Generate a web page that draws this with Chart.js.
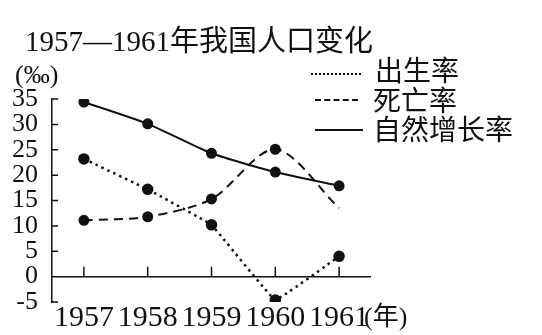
<!DOCTYPE html>
<html>
<head>
<meta charset="utf-8">
<script src="https://cdn.jsdelivr.net/npm/chart.js@4"></script>
<style>
  body { margin: 0; background: #fff; }
  #wrap { position: relative; width: 542px; height: 335px; }
  .txt { position: absolute; font-family: "Liberation Serif", "Noto Sans CJK SC", serif; color: #111; white-space: nowrap; line-height: 1; }
  .key { position: absolute; height: 0; border-top-color: #111; }
</style>
</head>
<body>
<div id="wrap">
  <canvas id="lineChart" width="542" height="335"></canvas>
  <div class="txt" style="left:25px; top:27px; font-size:29px;">1957—1961年我国人口变化</div>
  <div class="txt" style="left:15px; top:62px; font-size:26px;">(‰)</div>
  <div class="key" style="left:311px; top:73px; width:50px; border-top:2.5px dotted #111;"></div>
  <div class="txt" style="left:375px; top:58px; font-size:28px;">出生率</div>
  <div class="key" style="left:315px; top:99px; width:43px; border-top:2px dashed #111;"></div>
  <div class="txt" style="left:373px; top:88px; font-size:28px;">死亡率</div>
  <div class="key" style="left:315px; top:129px; width:48px; border-top:2px solid #111;"></div>
  <div class="txt" style="left:373px; top:117px; font-size:28px;">自然增长率</div>
  <div class="txt" style="left:364px; top:304px; font-size:26px;">(年)</div>
</div>
<script>
const years = ['1957', '1958', '1959', '1960', '1961'];
const birthRate = [23.2, 17.2, 10.2, -4.6, 4.0];
const deathRate = [11.1, 11.8, 15.3, 25.1, 13.5];
const growthRate = [34.4, 30.1, 24.3, 20.6, 17.9];
const yTicks = [35, 30, 25, 20, 15, 10, 5, 0, -5];

// small tick marks: inward on the y axis, upward on the zero line
const axisMarks = {
    id: 'axisMarks',
    afterDraw(chart) {
        const ctx = chart.ctx;
        const x = chart.scales.x;
        const y = chart.scales.y;
        ctx.save();
        ctx.strokeStyle = '#111';
        ctx.lineWidth = 1.5;
        ctx.beginPath();
        yTicks.forEach(v => {
            const py = y.getPixelForValue(v);
            ctx.moveTo(chart.chartArea.left, py);
            ctx.lineTo(chart.chartArea.left + 6, py);
        });
        const y0 = y.getPixelForValue(0);
        ctx.moveTo(chart.chartArea.left, y0);
        ctx.lineTo(chart.chartArea.right, y0);
        years.forEach((yr, i) => {
            const px = x.getPixelForValue(i);
            ctx.moveTo(px, y0);
            ctx.lineTo(px, y0 - 10);
        });
        ctx.stroke();
        ctx.restore();
    }
};

const ctx = document.getElementById('lineChart').getContext('2d');
new Chart(ctx, {
    type: 'line',
    data: {
        labels: years,
        datasets: [{
            label: '出生率',
            data: birthRate,
            borderColor: '#111',
            backgroundColor: '#111',
            borderWidth: 2.5,
            borderDash: [2.5, 4],
            tension: 0.05,
            pointRadius: 4.5
        }, {
            label: '死亡率',
            data: deathRate,
            borderColor: '#111',
            backgroundColor: '#111',
            borderWidth: 2,
            borderDash: [9, 6],
            tension: 0.3,
            pointRadius: [4.5, 4.5, 4.5, 4.5, 0]
        }, {
            label: '自然增长率',
            data: growthRate,
            borderColor: '#111',
            backgroundColor: '#111',
            borderWidth: 2,
            tension: 0.2,
            pointRadius: 4.5
        }]
    },
    options: {
        responsive: false,
        animation: false,
        layout: { padding: { top: 99, right: 171, left: 0, bottom: 0 } },
        plugins: { legend: { display: false }, tooltip: { enabled: false } },
        scales: {
            x: {
                offset: true,
                grid: { display: false },
                border: { display: false },
                afterFit: s => { s.height = 33; },
                ticks: {
                    color: '#111',
                    padding: -10,
                    maxRotation: 0,
                    autoSkip: false,
                    font: { family: 'Liberation Serif', size: 30 }
                }
            },
            y: {
                min: -5,
                max: 35,
                afterFit: s => { s.width = 52; },
                afterBuildTicks: s => { s.ticks = yTicks.map(v => ({ value: v })); },
                border: { display: true, color: '#111', width: 1.5 },
                grid: { display: false },
                ticks: {
                    color: '#111',
                    padding: 6,
                    autoSkip: false,
                    font: { family: 'Liberation Serif', size: 26 }
                }
            }
        }
    },
    plugins: [axisMarks]
});
</script>
</body>
</html>
